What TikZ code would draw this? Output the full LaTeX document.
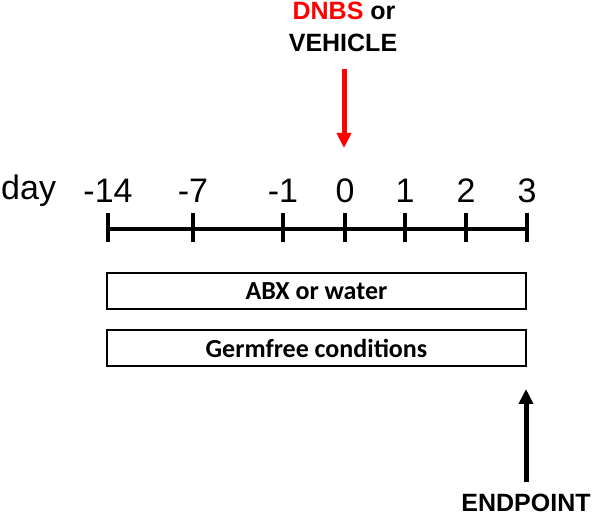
\documentclass[tikz,border=0pt]{standalone}
\usepackage{fontspec}
\setmainfont{Liberation Sans}
\newfontfamily\cajafont{Carlito}
\usetikzlibrary{arrows.meta}

\tikzset{
  eje/.style={line width=4pt},
  numero/.style={anchor=base, inner sep=0pt, font=\fontsize{34}{40}\selectfont},
  etiqueta/.style={anchor=base, inner sep=0pt, font=\fontsize{25}{30}\selectfont\bfseries},
  caja/.style={draw, line width=2pt, minimum width=419pt, minimum height=36pt, inner sep=0pt,
    font=\fontsize{26}{30}\selectfont\cajafont\bfseries},
  flecha/.style={-{Triangle[width=14pt,length=15pt]}, line width=5pt}
}

\begin{document}
\begin{tikzpicture}[x=1pt,y=-1pt]
    \useasboundingbox (0,0) rectangle (595,518);

    % Eje de dias con marcas
    \draw[eje] (106,229) -- (529,229);
    \foreach \x/\d/\n in {108/-14/a,193/-7/b,283/-1/c,345/0/d,405/1/e,466/2/f,527/3/g}{
        \draw[eje] (\x,213) -- (\x,242);
        \node[numero] (dia\n) at (\x,203) {\d};
    }
    \node[numero, anchor=base west] (day) at (1,200) {day};

    % Tratamiento en el dia 0
    \node[etiqueta] (dnbs) at (344,20) {\textcolor{red}{DNBS} or};
    \node[etiqueta] (vehiculo) at (343,52) {VEHICLE};
    \coordinate (cero) at (344,148);
    \draw[flecha, red, shorten <=17pt] (vehiculo.south -| cero) -- (cero);

    % Cajas de condiciones
    \node[caja] (abx) at (316.5,291) {ABX or water};
    \node[caja] (germfree) at (316.5,348) {Germfree conditions};

    % Punto final
    \node[etiqueta] (fin) at (526,512) {ENDPOINT};
    \coordinate (cima) at (526,389);
    \draw[flecha, shorten <=12pt] (fin.north) -- (cima);
\end{tikzpicture}
\end{document}
